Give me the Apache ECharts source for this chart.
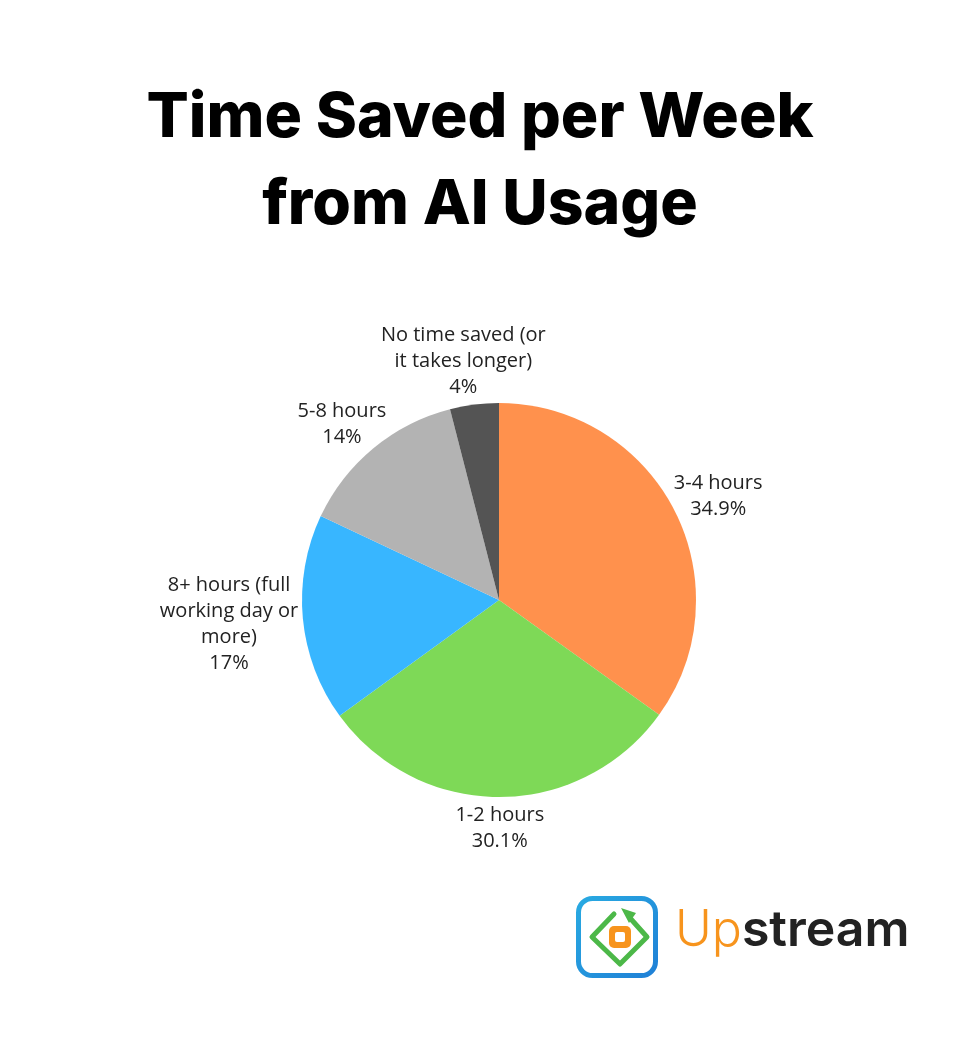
<!DOCTYPE html>
<html>
<head>
<meta charset="utf-8">
<script src="https://cdn.jsdelivr.net/npm/echarts@6/dist/echarts.min.js"></script>
<style>
  html, body { margin: 0; padding: 0; background: #ffffff; }
  #chart { width: 974px; height: 1038px; }
</style>
</head>
<body>
<div id="chart"></div>
<script>
const titleLines = ['Time Saved per Week', 'from AI Usage'];
const categories = ['3-4 hours', '1-2 hours', '8+ hours (full\nworking day or\nmore)', '5-8 hours', 'No time saved (or\nit takes longer)'];
const values = [34.9, 30.1, 17, 14, 4];
const percentLabels = ['34.9%', '30.1%', '17%', '14%', '4%'];
const colors = ['#FF914D', '#7ED957', '#38B6FF', '#B3B3B3', '#545454'];

const chart = echarts.init(document.getElementById('chart'), null, { renderer: 'canvas' });

const GAP = 5;

const option = {
  backgroundColor: '#ffffff',
  animation: false,
  title: {
    text: titleLines.join('\n'),
    left: 475,
    top: 70,
    textAlign: 'center',
    textStyle: {
      fontFamily: 'Inter',
      fontWeight: 800,
      fontSize: 62.5,
      lineHeight: 87,
      color: '#000000'
    }
  },
  series: [{
    type: 'pie',
    center: [499, 600],
    radius: [0, 197],
    startAngle: 90,
    clockwise: true,
    avoidLabelOverlap: false,
    data: categories.map((c, i) => ({
      name: c,
      value: values[i],
      itemStyle: { color: colors[i] }
    })),
    label: {
      show: true,
      position: 'outside',
      formatter: p => p.name + '\n' + percentLabels[p.dataIndex],
      fontFamily: 'Open Sans',
      fontSize: 20,
      lineHeight: 26,
      color: '#222222',
      align: 'center'
    },
    labelLine: {
      show: true,
      length: 10,
      length2: 0,
      lineStyle: { opacity: 0 }
    },
    labelLayout: function (params) {
      const pts = params.labelLinePoints;
      const r = params.labelRect;
      if (!pts || pts.length < 2) {
        return { align: 'center' };
      }
      let dx = pts[1][0] - pts[0][0];
      let dy = pts[1][1] - pts[0][1];
      const len = Math.sqrt(dx * dx + dy * dy) || 1;
      dx /= len; dy /= len;
      const cx = pts[0][0] + dx * GAP + dx * r.width / 2;
      const cy = pts[0][1] + dy * GAP + dy * r.height / 2;
      return { x: cx, y: cy, align: 'center', verticalAlign: 'middle' };
    },
    emphasis: { disabled: true }
  }],
  graphic: [
    {
      type: 'group',
      left: 576,
      top: 896,
      children: [
        {
          type: 'rect',
          shape: { x: 2.5, y: 2.5, width: 77, height: 77, r: 14 },
          style: {
            fill: '#ffffff',
            lineWidth: 5,
            stroke: new echarts.graphic.LinearGradient(0, 0, 1, 1, [
              { offset: 0, color: '#29ABE2' },
              { offset: 1, color: '#1F7FD6' }
            ])
          }
        },
        {
          type: 'polyline',
          shape: { points: [[38, 18], [16, 41], [44, 68], [71, 41], [54, 22]] },
          style: { fill: null, stroke: '#4CB848', lineWidth: 5, lineJoin: 'round', lineCap: 'round' }
        },
        {
          type: 'polygon',
          shape: { points: [[45, 12], [60, 17], [53, 27]] },
          style: { fill: '#4CB848' }
        },
        {
          type: 'rect',
          shape: { x: 33, y: 30, width: 22, height: 22, r: 5 },
          style: { fill: '#F7941D' }
        },
        {
          type: 'rect',
          shape: { x: 39, y: 36, width: 10, height: 10, r: 2 },
          style: { fill: '#ffffff' }
        }
      ]
    },
    {
      type: 'text',
      left: 675,
      top: 906,
      style: {
        text: '{a|Up}{b|stream}',
        rich: {
          a: { fontFamily: 'Inter', fontWeight: 300, fontSize: 50, fill: '#F7941D' },
          b: { fontFamily: 'Inter', fontWeight: 600, fontSize: 50, fill: '#222222' }
        }
      }
    }
  ]
};

chart.setOption(option);
</script>
</body>
</html>
